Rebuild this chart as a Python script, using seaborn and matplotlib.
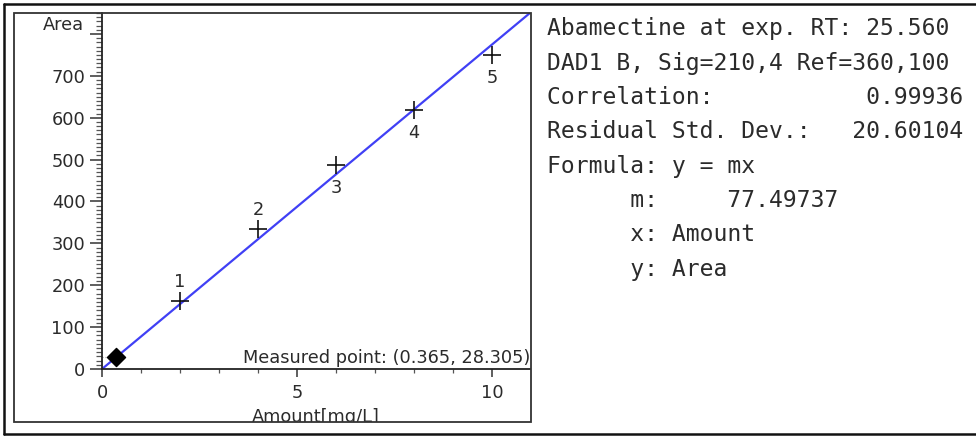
import numpy as np
import pandas as pd
import matplotlib
matplotlib.use("Agg")
import matplotlib.pyplot as plt
import seaborn as sns
from matplotlib.ticker import MultipleLocator, FuncFormatter
from matplotlib.lines import Line2D
from matplotlib.patches import Rectangle

# ---- data ----
levels = ["1", "2", "3", "4", "5"]
amount = [2, 4, 6, 8, 10]
area = [162, 334, 488, 619, 750]
measured_x = [0.365]
measured_y = [28.305]
slope_m = 77.49737
x_max = 10.97
y_max = 850

compound = "Abamectine"
exp_rt = "25.560"
signal = "DAD1 B, Sig=210,4 Ref=360,100"
correlation = "0.99936"
resid_std = "20.60104"
formula = "y = mx"

info_lines = [
    f"{compound} at exp. RT: {exp_rt}",
    signal,
    "Correlation:" + correlation.rjust(18),
    "Residual Std. Dev.:" + resid_std.rjust(11),
    f"Formula: {formula}",
    "      m:     " + f"{slope_m:.5f}",
    "      x: Amount",
    "      y: Area",
]

df = pd.DataFrame({"Amount": amount, "Area": area, "Level": levels})
fit = pd.DataFrame({"Amount": [0, x_max], "Area": [0, slope_m * x_max]})

sns.set_style("white")
plt.rcParams["font.family"] = ["DejaVu Sans"]

W, H = 976, 436
fig = plt.figure(figsize=(W / 100, H / 100), dpi=100)
fig.patch.set_facecolor("white")

ax_l, ax_r, ax_b, ax_t = 102, 530, 369, 13
ax = fig.add_axes([ax_l / W, 1 - ax_b / H, (ax_r - ax_l) / W, (ax_b - ax_t) / H])
ax.set_facecolor("white")

txtc = "#2b2b2b"
fs = 12.8
sns.lineplot(data=fit, x="Amount", y="Area", color="#4040f5", lw=1.6, ax=ax, zorder=2)
ax.plot([0, measured_x[0]], [measured_y[0], measured_y[0]], color="#aaaaaa", lw=0.8, ls=":", zorder=1)
sns.scatterplot(data=df, x="Amount", y="Area", marker="+", s=160, color="#111111",
                linewidth=1.2, ax=ax, zorder=3)
sns.scatterplot(x=measured_x, y=measured_y, marker="D", s=85, color="black",
                edgecolor="black", linewidth=1, ax=ax, zorder=4)

for i, (lx, ly, lab) in enumerate(zip(amount, area, levels)):
    off = 13.5 if i < 2 else -16.5
    ax.annotate(lab, (lx, ly), xytext=(0, off), textcoords="offset points",
                ha="center", va="center", fontsize=fs, color=txtc)

ax.set_xlim(0, x_max)
ax.set_ylim(0, y_max)
for s in ["top", "right"]:
    ax.spines[s].set_visible(False)
for s in ["left", "bottom"]:
    ax.spines[s].set_color("#222222")
    ax.spines[s].set_linewidth(1.3)

ax.xaxis.set_major_locator(MultipleLocator(5))
ax.xaxis.set_minor_locator(MultipleLocator(1))
ax.yaxis.set_major_locator(MultipleLocator(100))
ax.yaxis.set_minor_locator(MultipleLocator(10))
ax.yaxis.set_major_formatter(FuncFormatter(lambda v, p: "" if v > 750 else f"{v:.0f}"))
ax.tick_params(axis="y", which="major", length=8.5, width=1.1, color="#333333",
               labelsize=fs, labelcolor=txtc, pad=3.5, direction="out", left=True)
ax.tick_params(axis="y", which="minor", length=4.5, width=0.9, color="#555555", left=True)
ax.tick_params(axis="x", which="major", length=6, width=1.1, color="#333333",
               labelsize=fs, labelcolor=txtc, pad=5, direction="out", bottom=True)
ax.tick_params(axis="x", which="minor", length=3, width=0.9, color="#555555", bottom=True)
ax.set_xlabel("")
ax.set_ylabel("")
ax.grid(False)

ax.text(1.0, 0.005, f"Measured point: ({measured_x[0]:.3f}, {measured_y[0]:.3f})",
        transform=ax.transAxes, ha="right", va="bottom", fontsize=fs, color=txtc)

# axis titles
fig.text(84 / W, 1 - 25 / H, "Area", ha="right", va="center", fontsize=fs, color=txtc)
fig.text((ax_l + ax_r) / 2 / W, 1 - 417 / H, "Amount[mg/L]", ha="center", va="center",
         fontsize=fs, color=txtc)

# cover below inner box, inner box frame
box_l, box_t, box_r, box_b = 14, 13, 531, 422
fig.patches.append(Rectangle((0, 0), 1, 1 - box_b / H, transform=fig.transFigure,
                             facecolor="white", edgecolor="none", zorder=5))
fig.patches.append(Rectangle((box_l / W, 1 - box_b / H), (box_r - box_l) / W,
                             (box_b - box_t) / H, transform=fig.transFigure,
                             facecolor="none", edgecolor="#333333", lw=1.3, zorder=6))
# outer frame (top, left, bottom)
for xs, ys in [([4, W + 5], [4, 4]), ([4, 4], [4, 434]), ([4, W + 5], [434, 434])]:
    fig.lines.append(Line2D([x / W for x in xs], [1 - y / H for y in ys],
                            transform=fig.transFigure, color="#111111", lw=1.8, zorder=7))

# info panel
for i, line in enumerate(info_lines):
    fig.text(547 / W, 1 - (29 + i * 34.3) / H, line, ha="left", va="center",
             fontsize=16.6, color=txtc, family=["DejaVu Sans Mono"])

fig.savefig("out.png", dpi=100)
